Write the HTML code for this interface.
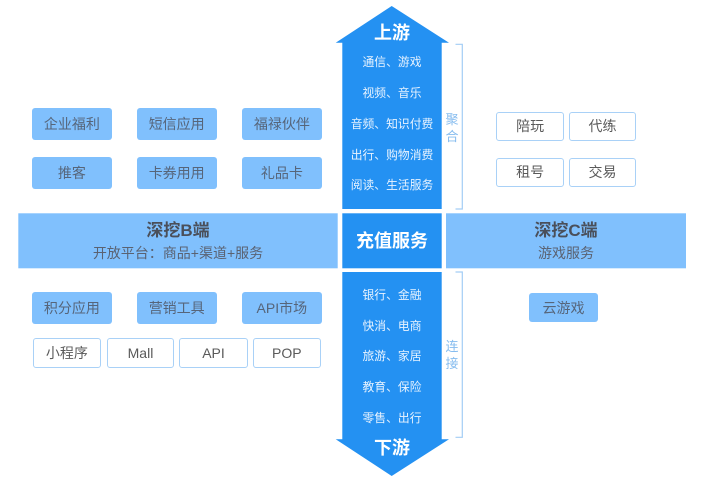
<!DOCTYPE html>
<html><head><meta charset="utf-8">
<style>
html,body{margin:0;padding:0;background:#fff;}
body{width:717px;height:485px;position:relative;overflow:hidden;font-family:"Liberation Sans","Noto Sans CJK SC",sans-serif;}
.a{position:absolute;box-sizing:border-box;display:flex;align-items:center;justify-content:center;white-space:nowrap;}
.lb{background:#80c0fd;border-radius:3px;color:#56657a;font-size:14px;}
.ob{background:#fff;border:1.5px solid #a9d1f7;border-radius:3px;color:#5a5a5a;font-size:14px;}
.t{position:absolute;white-space:nowrap;text-align:center;}
.w{color:#e8f3ff;font-size:11.8px;left:342px;width:100px;}
</style></head><body>
<svg width="717" height="485" style="position:absolute;left:0;top:0">
<polygon points="391.7,6 449,42.7 441.7,42.7 441.7,209 342.3,209 342.3,42.7 335.7,42.7" fill="#2491f2"/>
<polygon points="342.3,272 441.7,272 441.7,439.3 449,439.3 391.7,476 335.7,439.3 342.3,439.3" fill="#2491f2"/>
<rect x="342.3" y="213.3" width="99.4" height="55" fill="#2491f2"/>
<rect x="18.3" y="213.3" width="319.4" height="55" fill="#80c0fd"/>
<rect x="446" y="213.3" width="240" height="55" fill="#80c0fd"/>
<polyline points="455.5,44.3 462.3,44.3 462.3,209 455.5,209" fill="none" stroke="#a3cdf5" stroke-width="1.2"/>
<polyline points="455.5,272 462.3,272 462.3,437.3 455.5,437.3" fill="none" stroke="#a3cdf5" stroke-width="1.2"/>
</svg>

<div class="t" style="left:342px;width:100px;top:21px;font-size:18px;font-weight:bold;color:#fff;line-height:24px;">上游</div>
<div class="t w" style="top:54px;line-height:17px;">通信、游戏</div>
<div class="t w" style="top:85px;line-height:17px;">视频、音乐</div>
<div class="t w" style="top:115.5px;line-height:17px;">音频、知识付费</div>
<div class="t w" style="top:146.5px;line-height:17px;">出行、购物消费</div>
<div class="t w" style="top:177px;line-height:17px;">阅读、生活服务</div>

<div class="t" style="left:342px;width:100px;top:229px;font-size:18px;font-weight:bold;color:#fff;line-height:24px;">充值服务</div>

<div class="t w" style="top:286.5px;line-height:17px;">银行、金融</div>
<div class="t w" style="top:317.5px;line-height:17px;">快消、电商</div>
<div class="t w" style="top:348px;line-height:17px;">旅游、家居</div>
<div class="t w" style="top:379px;line-height:17px;">教育、保险</div>
<div class="t w" style="top:410px;line-height:17px;">零售、出行</div>
<div class="t" style="left:342px;width:100px;top:436px;font-size:18px;font-weight:bold;color:#fff;line-height:24px;">下游</div>

<div class="t" style="left:444px;width:16px;top:111px;font-size:13px;line-height:17px;color:#86bcef;">聚<br>合</div>
<div class="t" style="left:444px;width:16px;top:338px;font-size:13px;line-height:17px;color:#86bcef;">连<br>接</div>

<div class="t" style="left:18px;width:320px;top:220px;font-size:17px;font-weight:bold;color:#4a4f5a;line-height:22px;">深挖B端</div>
<div class="t" style="left:18px;width:320px;top:244px;font-size:14px;color:#5a6272;line-height:18px;">开放平台：商品+渠道+服务</div>
<div class="t" style="left:446px;width:240px;top:220px;font-size:17px;font-weight:bold;color:#4a4f5a;line-height:22px;">深挖C端</div>
<div class="t" style="left:446px;width:240px;top:244px;font-size:14px;color:#5a6272;line-height:18px;">游戏服务</div>

<div class="a lb" style="left:32px;top:107.7px;width:79.7px;height:32.3px;">企业福利</div>
<div class="a lb" style="left:136.7px;top:107.7px;width:80px;height:32.3px;">短信应用</div>
<div class="a lb" style="left:242px;top:107.7px;width:79.7px;height:32.3px;">福禄伙伴</div>
<div class="a lb" style="left:32px;top:156.7px;width:79.7px;height:32.3px;">推客</div>
<div class="a lb" style="left:136.7px;top:156.7px;width:80px;height:32.3px;">卡券用用</div>
<div class="a lb" style="left:242px;top:156.7px;width:79.7px;height:32.3px;">礼品卡</div>

<div class="a lb" style="left:32px;top:291.7px;width:79.7px;height:32.3px;">积分应用</div>
<div class="a lb" style="left:136.7px;top:291.7px;width:80px;height:32.3px;">营销工具</div>
<div class="a lb" style="left:242px;top:291.7px;width:79.7px;height:32.3px;">API市场</div>

<div class="a ob" style="left:32.7px;top:338.3px;width:68.3px;height:30px;">小程序</div>
<div class="a ob" style="left:106.7px;top:338.3px;width:67.6px;height:30px;">Mall</div>
<div class="a ob" style="left:179.3px;top:338.3px;width:68.4px;height:30px;">API</div>
<div class="a ob" style="left:252.7px;top:338.3px;width:68.3px;height:30px;">POP</div>

<div class="a ob" style="left:496px;top:111.7px;width:68.3px;height:29.6px;">陪玩</div>
<div class="a ob" style="left:568.7px;top:111.7px;width:67.6px;height:29.6px;">代练</div>
<div class="a ob" style="left:496px;top:157.7px;width:68.3px;height:29.6px;">租号</div>
<div class="a ob" style="left:568.7px;top:157.7px;width:67.6px;height:29.6px;">交易</div>

<div class="a lb" style="left:529.3px;top:293px;width:68.4px;height:29.3px;">云游戏</div>
</body></html>
